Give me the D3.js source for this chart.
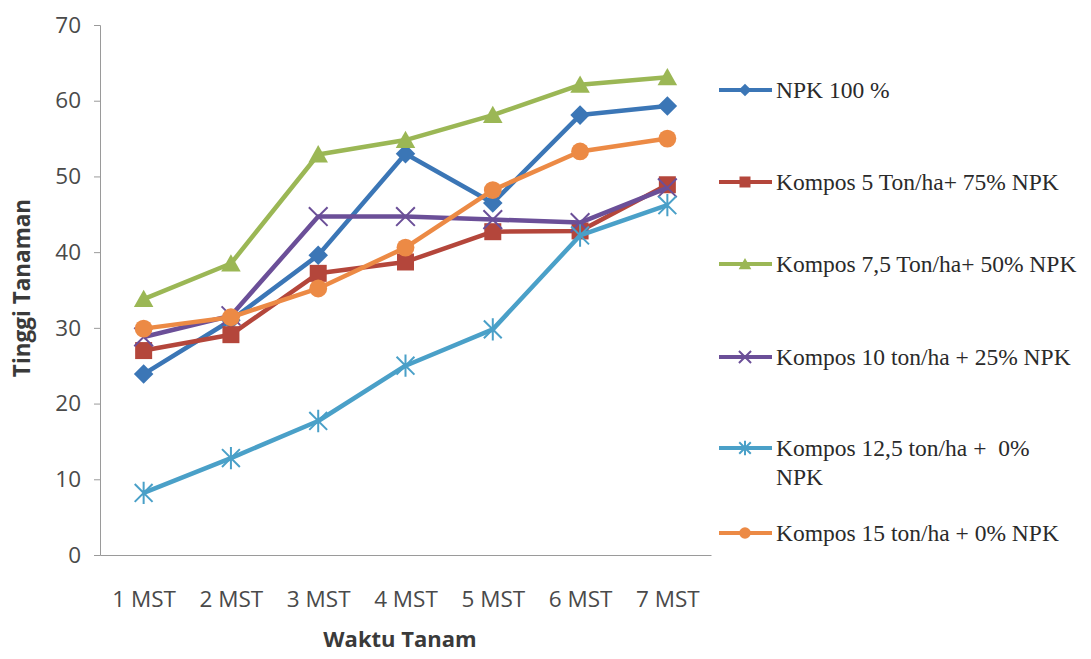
<!DOCTYPE html>
<html>
<head>
<meta charset="utf-8">
<script src="https://cdn.jsdelivr.net/npm/d3@7"></script>
<style>
  html, body { margin: 0; padding: 0; background: #fff; }
  svg { display: block; }
</style>
</head>
<body>
<svg id="chart" width="1091" height="659"></svg>
<script>
// Plant height (cm) per week after planting, by fertiliser treatment
const weeks = ["1 MST", "2 MST", "3 MST", "4 MST", "5 MST", "6 MST", "7 MST"];
const yTicks = [0, 10, 20, 30, 40, 50, 60, 70];

const npk100      = [23.9, 31.0, 39.6, 53.0, 46.5, 58.1, 59.3];
const kompos5     = [27.0, 29.1, 37.2, 38.7, 42.7, 42.8, 48.9];
const kompos7_5   = [33.8, 38.5, 52.9, 54.8, 58.1, 62.1, 63.1];
const kompos10    = [28.8, 31.6, 44.7, 44.7, 44.3, 43.9, 48.5];
const kompos12_5  = [8.2, 12.8, 17.7, 25.0, 29.8, 42.2, 46.2];
const kompos15    = [29.9, 31.4, 35.2, 40.6, 48.2, 53.3, 55.0];

const seriesNames = [
  "NPK 100 %",
  "Kompos 5 Ton/ha+ 75% NPK",
  "Kompos 7,5 Ton/ha+ 50% NPK",
  "Kompos 10 ton/ha + 25% NPK",
  ["Kompos 12,5 ton/ha +  0%", "NPK"],
  "Kompos 15 ton/ha + 0% NPK"
];
const seriesValues = [npk100, kompos5, kompos7_5, kompos10, kompos12_5, kompos15];
const seriesColors = ["#3b76b6", "#b4463b", "#9bb755", "#6b4f98", "#4aa0c8", "#ec8a45"];
const seriesMarkers = ["diamond", "square", "triangle", "x", "star", "circle"];

const svg = d3.select("#chart");

const x = d3.scalePoint().domain(weeks).range([100, 711]).padding(0.5);
const y = d3.scaleLinear().domain([0, 70]).range([555, 25]);

const labelFont = "'Open Sans', sans-serif";

// Axes
const yAxis = svg.append("g")
  .attr("transform", "translate(100,0)")
  .call(d3.axisLeft(y).tickValues(yTicks).tickSize(6).tickPadding(13).tickFormat(d3.format("d")));
yAxis.select(".domain").attr("stroke", "#9a9a9a");
yAxis.selectAll(".tick line").attr("stroke", "#9a9a9a");
yAxis.selectAll(".tick text")
  .attr("font-family", labelFont)
  .attr("font-size", 22.5)
  .attr("fill", "#4a4a4a");

const xAxis = svg.append("g")
  .attr("transform", "translate(0,555)")
  .call(d3.axisBottom(x).tickSize(0).tickPadding(36).tickSizeOuter(0));
xAxis.select(".domain").attr("stroke", "#9a9a9a");
xAxis.selectAll(".tick text")
  .attr("font-family", labelFont)
  .attr("font-size", 22.5)
  .attr("fill", "#4a4a4a");

// Axis titles
svg.append("text")
  .attr("x", 400).attr("y", 647)
  .attr("text-anchor", "middle")
  .attr("font-family", labelFont)
  .attr("font-weight", "bold")
  .attr("font-size", 22)
  .attr("fill", "#3a3a3a")
  .text("Waktu Tanam");

svg.append("text")
  .attr("transform", "translate(30,288) rotate(-90)")
  .attr("text-anchor", "middle")
  .attr("font-family", labelFont)
  .attr("font-weight", "bold")
  .attr("font-size", 22.5)
  .attr("fill", "#3a3a3a")
  .text("Tinggi Tanaman");

// Marker drawing; s is the half size of the marker
function drawMarker(g, type, color, s) {
  if (type === "diamond") {
    const d = s * 1.15;
    g.append("path").attr("d", `M0,${-d}L${d},0L0,${d}L${-d},0Z`).attr("fill", color);
  } else if (type === "square") {
    g.append("rect").attr("x", -s).attr("y", -s).attr("width", 2 * s).attr("height", 2 * s)
      .attr("fill", color);
  } else if (type === "triangle") {
    const h = s * 1.1;
    g.append("path").attr("d", `M0,${-h}L${s * 1.15},${h * 0.85}L${-s * 1.15},${h * 0.85}Z`)
      .attr("fill", color);
  } else if (type === "circle") {
    g.append("circle").attr("r", s * 1.05).attr("fill", color);
  } else if (type === "x") {
    const d = s * 1.1;
    g.append("path")
      .attr("d", `M${-d},${-d}L${d},${d}M${-d},${d}L${d},${-d}`)
      .attr("stroke", color).attr("stroke-width", 2).attr("fill", "none");
  } else if (type === "star") {
    const d = s * 1.05;
    g.append("path")
      .attr("d", `M${-d},${-d}L${d},${d}M${-d},${d}L${d},${-d}M0,${-d * 1.25}L0,${d * 1.25}`)
      .attr("stroke", color).attr("stroke-width", 2).attr("fill", "none");
  }
}

const line = d3.line().x((d, i) => x(weeks[i])).y(d => y(d));

const plot = svg.append("g");
seriesValues.forEach((vals, si) => {
  const color = seriesColors[si];
  plot.append("path")
    .datum(vals)
    .attr("d", line)
    .attr("fill", "none")
    .attr("stroke", color)
    .attr("stroke-width", 4.5)
    .attr("stroke-linejoin", "round");
  vals.forEach((v, i) => {
    const g = plot.append("g").attr("transform", `translate(${x(weeks[i])},${y(v)})`);
    drawMarker(g, seriesMarkers[si], color, 8.5);
  });
});

// Legend
const legendY = [90, 182, 264, 357, 448, 533];
const legend = svg.append("g");
seriesNames.forEach((name, si) => {
  const color = seriesColors[si];
  const ly = legendY[si];
  const g = legend.append("g").attr("transform", `translate(0,${ly})`);
  g.append("line").attr("x1", 719).attr("x2", 772).attr("y1", 0).attr("y2", 0)
    .attr("stroke", color).attr("stroke-width", 4);
  const mg = g.append("g").attr("transform", "translate(745,0)");
  drawMarker(mg, seriesMarkers[si], color, 5.5);
  const lines = Array.isArray(name) ? name : [name];
  const t = g.append("text")
    .attr("x", 776)
    .attr("y", 8)
    .attr("font-family", "'Liberation Serif', 'Times New Roman', serif")
    .attr("font-size", 23.5)
    .attr("fill", "#2a2a2a");
  lines.forEach((ln, li) => {
    t.append("tspan").attr("x", 776).attr("dy", li === 0 ? 0 : 29).attr("xml:space", "preserve").text(ln);
  });
});
</script>
</body>
</html>
